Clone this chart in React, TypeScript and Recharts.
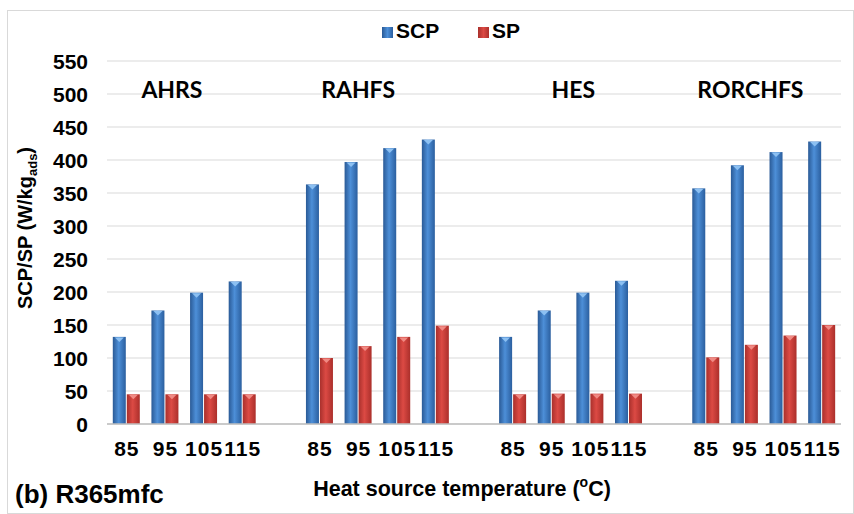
import { BarChart, Bar, XAxis, YAxis, CartesianGrid, ReferenceDot } from 'recharts';

const temperatures = ['85', '95', '105', '115'];
const systems = ['AHRS', 'RAHFS', 'HES', 'RORCHFS'];

// SCP per system, one value per temperature
const scpAHRS = [132, 172, 199, 216];
const scpRAHFS = [363, 397, 418, 431];
const scpHES = [132, 172, 199, 217];
const scpRORCHFS = [357, 392, 412, 428];

// SP per system
const spAHRS = [45, 45, 45, 45];
const spRAHFS = [100, 118, 132, 149];
const spHES = [45, 46, 46, 46];
const spRORCHFS = [101, 120, 134, 150];

const yTicks = [0, 50, 100, 150, 200, 250, 300, 350, 400, 450, 500, 550];

const scpBySystem = [scpAHRS, scpRAHFS, scpHES, scpRORCHFS];
const spBySystem = [spAHRS, spRAHFS, spHES, spRORCHFS];

// one empty slot between the system groups
const data: any[] = [];
systems.forEach((sys, i) => {
  temperatures.forEach((t, j) => {
    data.push({ id: `${sys}-${t}`, temp: t, scp: scpBySystem[i][j], sp: spBySystem[i][j] });
  });
  if (i < systems.length - 1) data.push({ id: `gap-${i}`, temp: '', scp: null, sp: null });
});

// group titles sit a little off the group centre in the original
const labelShift = [7, 0, 22, 6];

const FONT = '"Liberation Sans", Arial, sans-serif';

const CylBar = (props: any) => {
  const { x, y, width, height, fill, cap } = props;
  if (!height || height <= 0) return null;
  return (
    <g>
      <rect x={x} y={y} width={width} height={height} fill={fill} />
      <path d={`M${x + 2},${y + 0.5} L${x + width - 2},${y + 0.5} L${x + width / 2},${y + 5} Z`} fill={cap} />
    </g>
  );
};

const XTick = (props: any) => {
  const { x, y, payload } = props;
  const temp = data.find((d) => d.id === payload.value)?.temp ?? '';
  return (
    <text x={x + 0.5} y={y} dy="0.72em" textAnchor="middle" fontFamily={FONT} fontWeight={700} fontSize={21} letterSpacing={1} fill="#000">
      {temp}
    </text>
  );
};

const YTick = (props: any) => {
  const { x, y, payload } = props;
  return (
    <text x={x} y={y} dy="0.36em" textAnchor="end" fontFamily={FONT} fontWeight={700} fontSize={21} fill="#000">
      {payload.value}
    </text>
  );
};

const GroupLabel = (text: string, dx: number) => (props: any) => {
  const vb = props.viewBox || {};
  const cx = (vb.x ?? 0) + (vb.width ?? 0) / 2 + dx;
  const cy = (vb.y ?? 0) + (vb.height ?? 0) / 2;
  return (
    <text x={cx} y={cy} textAnchor="middle" dominantBaseline="central" fontFamily="Lato, sans-serif" fontWeight={700} fontSize={23} fill="#000">
      {text}
    </text>
  );
};

export default function App() {
  return (
    <div style={{ position: 'absolute', left: 0, top: 0, width: 854, height: 514, background: '#fff', fontFamily: FONT }}>
      <div style={{ position: 'absolute', left: 7, top: 10, width: 845, height: 502, border: '1px solid #d9d9d9' }} />
      <BarChart width={854} height={514} data={data} margin={{ top: 61, right: 13, bottom: 60, left: 0 }} barCategoryGap="15%" barGap={1}>
        <defs>
          <linearGradient id="blueGrad" x1="0" y1="0" x2="1" y2="0">
            <stop offset="0%" stopColor="#2a5a96" />
            <stop offset="45%" stopColor="#4d8fd8" />
            <stop offset="100%" stopColor="#2b5f9f" />
          </linearGradient>
          <linearGradient id="redGrad" x1="0" y1="0" x2="1" y2="0">
            <stop offset="0%" stopColor="#a9302c" />
            <stop offset="45%" stopColor="#dc4a44" />
            <stop offset="100%" stopColor="#ab2f2b" />
          </linearGradient>
        </defs>
        <CartesianGrid vertical={false} stroke="#d9d9d9" />
        <XAxis
          dataKey="id"
          interval={0}
          axisLine={{ stroke: '#bfbfbf', strokeWidth: 1.5 }}
          tickLine={false}
          tickMargin={11}
          tick={<XTick />}
        />
        <YAxis
          width={107}
          domain={[0, 550]}
          ticks={yTicks}
          interval={0}
          axisLine={false}
          tickLine={false}
          tickMargin={13}
          tick={<YTick />}
        />
        <Bar dataKey="scp" fill="url(#blueGrad)" isAnimationActive={false} shape={(p: any) => <CylBar {...p} cap="#8cc0f2" />} />
        <Bar dataKey="sp" fill="url(#redGrad)" isAnimationActive={false} shape={(p: any) => <CylBar {...p} cap="#f08a84" />} />
        {systems.map((sys, i) => (
          <ReferenceDot key={sys} x={`${sys}-95`} y={508} r={0} fill="none" stroke="none" label={GroupLabel(sys, labelShift[i])} />
        ))}
      </BarChart>

      {/* legend */}
      <div style={{ position: 'absolute', left: 382, top: 27, width: 11, height: 11, background: 'linear-gradient(90deg,#2a5a96,#4d8fd8,#2b5f9f)' }} />
      <div style={{ position: 'absolute', left: 396, top: 19, fontSize: 21, fontWeight: 700, lineHeight: '24px' }}>SCP</div>
      <div style={{ position: 'absolute', left: 478, top: 27, width: 11, height: 11, background: 'linear-gradient(90deg,#a9302c,#dc4a44,#ab2f2b)' }} />
      <div style={{ position: 'absolute', left: 492, top: 19, fontSize: 21, fontWeight: 700, lineHeight: '24px' }}>SP</div>

      {/* y axis title */}
      <div style={{ position: 'absolute', left: 29, top: 228, transform: 'translate(-50%, -50%) rotate(-90deg)', whiteSpace: 'nowrap', fontSize: 20, fontWeight: 700, lineHeight: '22px' }}>
        SCP/SP (W/kg<sub style={{ fontSize: 13 }}>ads</sub>)
      </div>

      {/* x axis title */}
      <div style={{ position: 'absolute', left: 462, top: 488, transform: 'translate(-50%, -50%)', whiteSpace: 'nowrap', fontSize: 21.5, fontWeight: 700 }}>
        Heat source temperature (<sup style={{ fontSize: 14 }}>o</sup>C)
      </div>

      <div style={{ position: 'absolute', left: 15, top: 479, whiteSpace: 'nowrap', fontSize: 26, fontWeight: 700, lineHeight: '30px' }}>
        (b) R365mfc
      </div>
    </div>
  );
}
